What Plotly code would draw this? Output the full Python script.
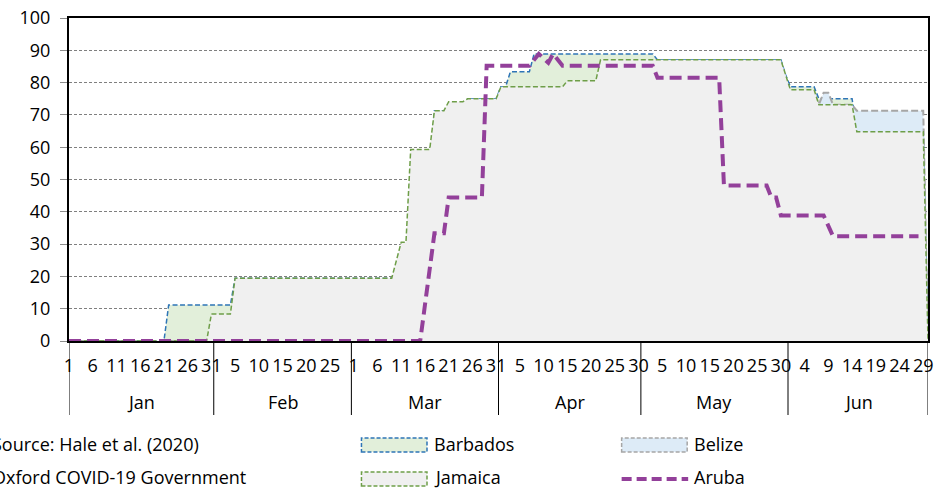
import pandas as pd
import plotly.graph_objects as go

# ---------------- data ----------------
START, END = "2020-01-01", "2020-06-30"
DATES = pd.date_range(START, END, freq="D")

MONTHS = ["Jan", "Feb", "Mar", "Apr", "May", "Jun"]

# change points: (date, value) ; the value holds until the next change point
BARBADOS = [("2020-01-01", 0), ("2020-01-22", 11.11), ("2020-02-05", 19.44),
            ("2020-03-13", 47.22), ("2020-03-18", 71.3), ("2020-03-25", 75.0),
            ("2020-04-01", 78.7), ("2020-04-03", 83.33), ("2020-04-08", 88.89),
            ("2020-05-04", 87.04), ("2020-05-31", 82.41), ("2020-06-01", 78.7),
            ("2020-06-07", 75.0), ("2020-06-15", 64.81), ("2020-06-30", 0)]

BELIZE = [("2020-01-01", 0), ("2020-03-13", 40.74), ("2020-03-21", 62.96),
          ("2020-04-01", 75.93), ("2020-04-22", 80.56), ("2020-06-01", 76.85),
          ("2020-06-07", 73.15), ("2020-06-08", 76.85), ("2020-06-10", 73.15),
          ("2020-06-15", 71.3), ("2020-06-30", 0)]

JAMAICA = [("2020-01-01", 0), ("2020-01-31", 8.33), ("2020-02-05", 19.44),
           ("2020-03-10", 25.0), ("2020-03-11", 30.56), ("2020-03-13", 59.26),
           ("2020-03-18", 71.3), ("2020-03-21", 74.07), ("2020-03-25", 75.0),
           ("2020-04-01", 78.7), ("2020-04-15", 80.56), ("2020-04-22", 87.04),
           ("2020-05-31", 82.41), ("2020-06-01", 77.78), ("2020-06-07", 73.15),
           ("2020-06-15", 64.81), ("2020-06-30", 0)]

ARUBA = [("2020-01-01", 0), ("2020-03-16", 11.11), ("2020-03-17", 22.22),
         ("2020-03-18", 33.33), ("2020-03-21", 44.44), ("2020-03-29", 85.19),
         ("2020-04-08", 87.04), ("2020-04-09", 88.89), ("2020-04-10", 87.5),
         ("2020-04-11", 86.11), ("2020-04-12", 88.89), ("2020-04-13", 87.04),
         ("2020-04-14", 85.19), ("2020-05-04", 81.48), ("2020-05-18", 48.15),
         ("2020-05-28", 44.44), ("2020-05-30", 38.89), ("2020-06-09", 35.65),
         ("2020-06-10", 32.41), ("2020-06-29", None)]

SOURCE_LINES = ["Source: Hale et al. (2020)", "Oxford COVID-19 Government"]


def expand(steps):
    marks = {pd.Timestamp(d): v for d, v in steps}
    out, cur = [], None
    for d in DATES:
        if d in marks:
            cur = marks[d]
        out.append(cur)
    return out


# ---------------- styling ----------------
FONT = "Open Sans"
FS = 18
PL, PR, PT, PB = 69, 2, 18, 147
W, H = 936, 488
PW, PH = W - PL - PR, H - PT - PB

C_BARB, F_BARB = "#2E75B6", "#E2EFDA"
C_BEL, F_BEL = "#A6A6A6", "#DDEBF7"
C_JAM, F_JAM = "#6E9E48", "#F0F0F0"
C_ARU = "#93409A"


def px(x):
    return (x - PL) / PW


def py(y):
    return (PT + PH - y) / PH


fig = go.Figure()
for name, steps, lc, fc, dash, lw in [
    ("Barbados", BARBADOS, C_BARB, F_BARB, "5px,2.5px", 1.5),
    ("Belize", BELIZE, C_BEL, F_BEL, "7px,3px", 2),
    ("Jamaica", JAMAICA, C_JAM, F_JAM, "5px,2.5px", 1.5),
]:
    fig.add_trace(go.Scatter(x=DATES, y=expand(steps), name=name, mode="lines",
                             line=dict(color=lc, width=lw, dash=dash),
                             fill="tozeroy", fillcolor=fc, showlegend=False))

fig.add_trace(go.Scatter(x=DATES, y=expand(ARUBA), name="Aruba", mode="lines",
                         line=dict(color=C_ARU, width=4, dash="12px,6px"),
                         connectgaps=False, showlegend=False))

tick_dates = list(DATES[::5])
tick_text = [str(d.day) for d in tick_dates]

x0 = DATES[0]
x1 = DATES[-1]
fig.update_xaxes(type="date", range=[x0, x1], tickvals=tick_dates, ticktext=tick_text,
                 ticks="", showgrid=False, zeroline=False, showline=True, mirror=True,
                 linecolor="black", linewidth=2, ticklabelstandoff=7,
                 ticklabeloverflow="allow",
                 tickfont=dict(family=FONT, size=FS, color="black"))
fig.update_yaxes(range=[0, 100], dtick=10, showgrid=True, gridcolor="#7F7F7F",
                 griddash="3px,2px", gridwidth=1, zeroline=False, showline=True,
                 mirror=True, linecolor="black", linewidth=2, ticks="outside",
                 ticklen=7, tickcolor="#8C8C8C", tickwidth=1, ticklabelstandoff=6,
                 tickfont=dict(family=FONT, size=FS, color="black"))

# month group dividers and labels
shapes, annotations = [], []
bounds = [x0]
for m in range(2, 7):
    bounds.append(pd.Timestamp(2020, m, 1) - pd.Timedelta(hours=12))
bounds.append(x1)
for b in bounds:
    shapes.append(dict(type="line", xref="x", yref="paper", x0=b, x1=b,
                       y0=0, y1=py(415), line=dict(color="black", width=1)))
for i, m in enumerate(MONTHS):
    mid = bounds[i] + (bounds[i + 1] - bounds[i]) / 2
    annotations.append(dict(x=mid, y=py(402), xref="x", yref="paper", text=m,
                            showarrow=False, xanchor="center", yanchor="middle",
                            font=dict(family=FONT, size=FS, color="black")))

# source note
for txt, yy in zip(SOURCE_LINES, [444, 476.5]):
    annotations.append(dict(x=px(-10), y=py(yy), xref="paper", yref="paper", text=txt,
                            showarrow=False, xanchor="left", yanchor="middle",
                            borderpad=0,
                            font=dict(family=FONT, size=FS, color="black")))

# legend (drawn)
LEG = [("Barbados", 363.5, 445, C_BARB, F_BARB, "box"),
       ("Belize", 625.5, 445, C_BEL, F_BEL, "box"),
       ("Jamaica", 363.5, 479, C_JAM, F_JAM, "box"),
       ("Aruba", 625.5, 479, C_ARU, None, "line")]
for name, lx, ly, lc, fc, kind in LEG:
    if kind == "box":
        shapes.append(dict(type="rect", xref="paper", yref="paper",
                           x0=px(lx), x1=px(lx + 66), y0=py(ly + 7), y1=py(ly - 7),
                           fillcolor=fc, line=dict(color=lc, width=1.5, dash="4px,2px")))
    else:
        shapes.append(dict(type="line", xref="paper", yref="paper",
                           x0=px(lx), x1=px(lx + 67), y0=py(ly), y1=py(ly),
                           line=dict(color=lc, width=4, dash="10px,5px")))
    annotations.append(dict(x=px(lx + 72), y=py(min(ly - 1.5, 476.5)), xref="paper",
                            yref="paper", text=name, showarrow=False, xanchor="left",
                            yanchor="middle", borderpad=0,
                            font=dict(family=FONT, size=FS, color="black")))

fig.update_layout(width=W, height=H, margin=dict(l=PL, r=PR, t=PT, b=PB, pad=0),
                  plot_bgcolor="white", paper_bgcolor="white", showlegend=False,
                  shapes=shapes, annotations=annotations,
                  font=dict(family=FONT, size=FS, color="black"))

fig.write_html("out.html", config={"displayModeBar": False},
               post_script="document.body.style.margin='0';"
                           "document.body.style.overflow='hidden';")
